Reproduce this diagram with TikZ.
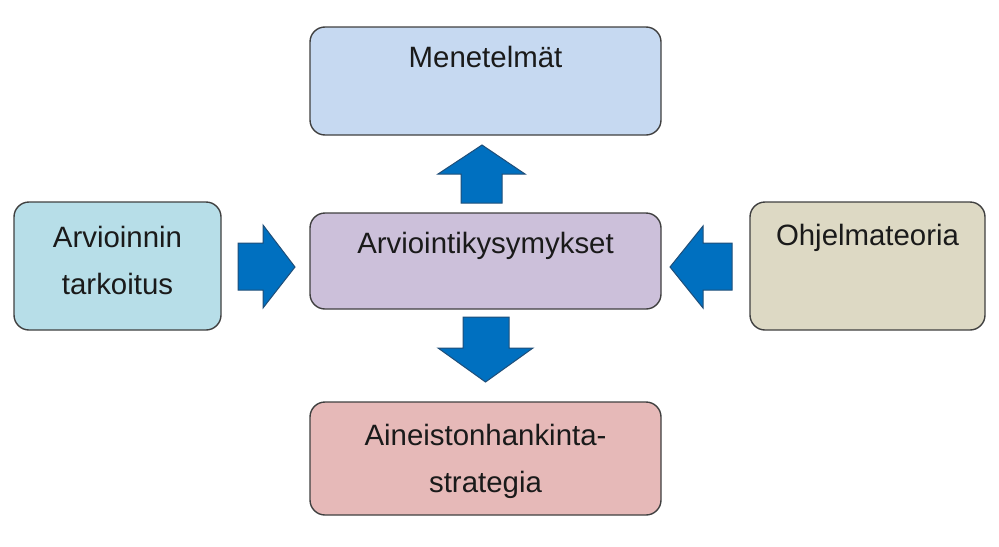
\documentclass[tikz,border=0pt]{standalone}
\usepackage{fontspec}
\setmainfont{Liberation Sans}
\usetikzlibrary{positioning}

\definecolor{boxline}{HTML}{404040}
\definecolor{textcol}{HTML}{1A1A1A}
\definecolor{arrowblue}{HTML}{0070C0}
\definecolor{arrowline}{HTML}{1F4E79}
\definecolor{fillmen}{HTML}{C6D9F1}
\definecolor{fillkys}{HTML}{CCC0DA}
\definecolor{filltark}{HTML}{B7DEE8}
\definecolor{fillteo}{HTML}{DDD9C4}
\definecolor{fillain}{HTML}{E6B9B8}

\begin{document}
\begin{tikzpicture}[
    x=0.5pt, y=-0.5pt,
    font=\fontsize{14.7}{23.5}\selectfont,
    text=textcol,
    box/.style={draw=boxline, line width=0.7pt, rounded corners=7.5pt, inner sep=0pt},
    txt/.style={inner sep=0pt, anchor=base},
    txt2/.style={inner sep=0pt, align=center},
    blockarrow/.style={draw=arrowline, fill=arrowblue, line width=0.5pt, line join=miter}
]
    \useasboundingbox (0,0) rectangle (999,546);

    % Laatikot
    \node[box, fill=fillmen, minimum width=175.5pt, minimum height=54pt] (men) at (485.5, 81) {};
    \node[box, fill=fillkys, minimum width=175.5pt, minimum height=48pt] (kys) at (485.5, 261) {};
    \node[box, fill=filltark, minimum width=103.5pt, minimum height=64pt] (tark) at (117.5, 266) {};
    \node[box, fill=fillteo, minimum width=117.5pt, minimum height=64pt] (teo) at (867.5, 266) {};
    \node[box, fill=fillain, minimum width=175.5pt, minimum height=56.5pt] (ain) at (485.5, 458.5) {};

    % Tekstit
    \node[txt] (men_t) at (485.5, 67) {Menetelmät};
    \node[txt] (kys_t) at (485.5, 253) {Arviointikysymykset};
    \node[txt] (teo_t) at (867.5, 245) {Ohjelmateoria};
    \node[txt2] (tark_t) at (117.5, 260.5) {Arvioinnin\\tarkoitus};
    \node[txt2] (ain_t) at (485.5, 461) {Aineistonhankinta-\\strategia};

    % Nuolet
    \draw[blockarrow] (482,145) -- (525,174) -- (502,174) -- (502,203) -- (461,203) -- (461,174) -- (438,174) -- cycle;
    \draw[blockarrow] (463,317) -- (509,317) -- (509,348) -- (533,348) -- (485.5,382) -- (438,348) -- (463,348) -- cycle;
    \draw[blockarrow] (238,243) -- (263,243) -- (263,225) -- (295,267) -- (263,308) -- (263,290) -- (238,290) -- cycle;
    \draw[blockarrow] (732,243) -- (703,243) -- (703,226) -- (670,267) -- (703,308) -- (703,290) -- (732,290) -- cycle;

\end{tikzpicture}
\end{document}
